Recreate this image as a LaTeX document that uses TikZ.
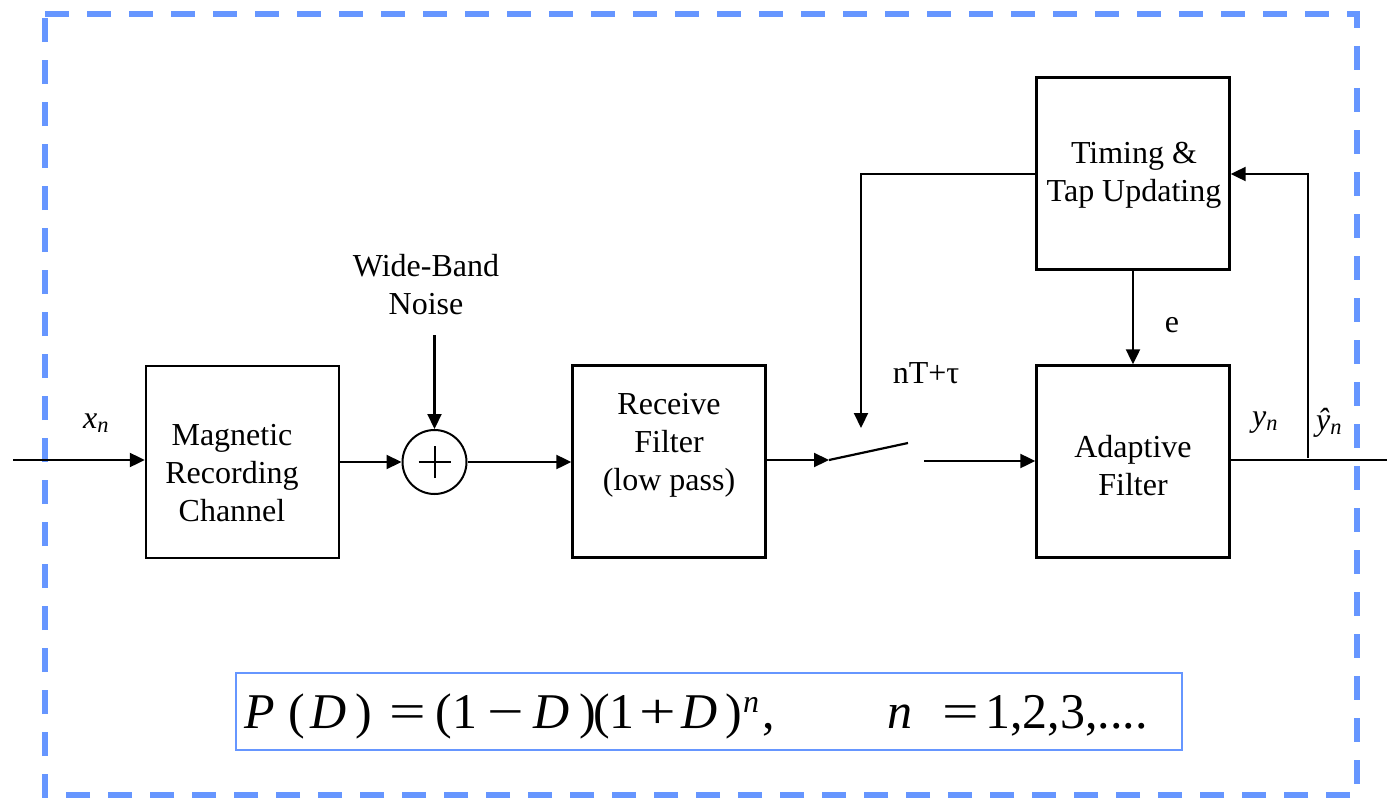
\documentclass[tikz,border=0pt]{standalone}
\usepackage{fontspec}
\usepackage{graphicx}
\setmainfont{Liberation Serif}
\usetikzlibrary{arrows.meta}
\definecolor{frameblue}{RGB}{102,150,255}
\newcommand{\tk}[2]{\makebox[#1pt][l]{#2}}
\newcommand{\wide}[1]{\scalebox{1.3}[1]{#1}}
\begin{document}
\begin{tikzpicture}[x=1pt,y=-1pt,
  blockbox/.style={draw=black, line width=2.4pt, minimum width=193pt, minimum height=192pt, inner sep=0pt},
  txt/.style={font=\fontsize{32}{38}\selectfont, align=center, inner sep=0pt},
  conn/.style={line width=2.2pt},
  arr/.style={conn, -{Triangle[length=15pt,width=14pt]}},
  lbl/.style={font=\fontsize{32}{38}\selectfont, inner sep=0pt}
]
\useasboundingbox (0,0) rectangle (1387,800);
% frame
\draw[frameblue, line width=6pt, dash pattern=on 24pt off 18pt] (45,14) -- (1357,14) -- (1357,795) -- (45,795) -- cycle;

% blocks
\node[blockbox] (mag) at (242.5,462) {};
\node[txt] (magt) at (232,473) {Magnetic\\Recording\\Channel};
\node[circle, draw=black, line width=2pt, minimum size=64pt, inner sep=0pt] (add) at (434.5,462) {};
\draw[line width=2pt] ([xshift=-16pt]add.center) -- ([xshift=16pt]add.center)
                      ([yshift=-16pt]add.center) -- ([yshift=16pt]add.center);
\node[txt] (noise) at (426,285) {Wide-Band\\Noise};
\coordinate (noisetop) at (434.5,335);
\node[blockbox] (rcv) at (669,461.5) {};
\node[txt] (rcvt) at (669,445) {Receive\\Filter\\(low pass)};
\node[blockbox] (tim) at (1133,173.5) {};
\node[txt] (timt) at (1134,175) {Timing \&\\Tap Updating};
\node[blockbox] (ada) at (1133,461.5) {};
\node[txt] (adat) at (1133,466) {Adaptive\\Filter};

% switch
\coordinate (swa) at (829,460);
\coordinate (swb) at (908,443);
\coordinate (swc) at (924,461);
\coordinate (swctl) at (861,428);
\coordinate (in) at (13,460);
\coordinate (out) at (1387,460);
\coordinate (tap) at (1308,460);

\node[lbl] (xn) at (96,423) {\textit{x}\textsubscript{\textit{n}}};
\node[lbl] (tau) at (926,373) {nT+τ};
\node[lbl] (e) at (1172,325) {e};
\node[lbl] (yn) at (1265,423) {\textit{y}\textsubscript{\textit{n}}};
\node[lbl] (yhat) at (1329,423) {\textit{ŷ}\textsubscript{\textit{n}}};

% connectors
\draw[arr] (in) -- (mag.west |- in);
\draw[arr] (mag.east |- add) -- (add.west);
\draw[arr] (noisetop) -- (add.north);
\draw[arr] (add.east) -- (rcv.west |- add.east);
\draw[arr] (rcv.east |- swa) -- (swa);
\draw[conn] (swa) -- (swb);
\draw[arr] (swc) -- (ada.west |- swc);
\draw[arr] (tim.west |- 0,174) -- (861,174) -- (swctl);
\draw[arr] (tim.south) -- (ada.north);
\draw[conn] (ada.east |- out) -- (out);
\draw[arr] ([yshift=2pt]tap) -- (1308,174) -- (tim.east |- 0,174);

% formula
\node[draw=frameblue, line width=2pt, minimum width=946pt, minimum height=77pt, inner sep=0pt] (fbox) at (709,711.5) {};
\node[inner sep=0pt, anchor=base west, font=\fontsize{50}{56}\selectfont] (formula) at (244,728)
  {\tk{44}{\textit{P}}\tk{22}{(}\tk{45}{\textit{D}}\tk{34}{)}\tk{46}{\wide{=}}\tk{17}{(}\tk{35}{1}\tk{46}{\wide{−}}\tk{46}{\textit{D}}\tk{14}{)}\tk{16}{(}\tk{30}{1}\tk{42}{\wide{+}}\tk{44}{\textit{D}}\tk{18}{)}\tk{19}{\raisebox{16pt}{\fontsize{32}{36}\selectfont\textit{n}}}\tk{125}{,}\tk{55}{\textit{n}}\tk{43}{\wide{=}}1,2,3,....};
\end{tikzpicture}
\end{document}
